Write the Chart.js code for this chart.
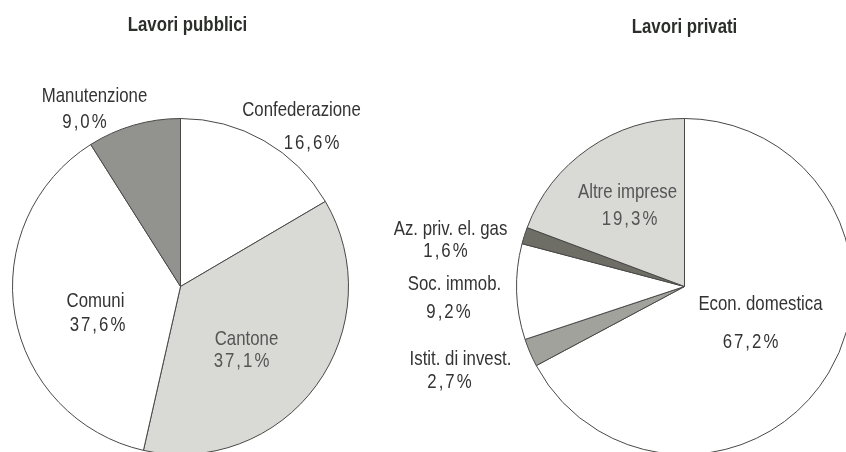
<!DOCTYPE html>
<html>
<head>
<meta charset="utf-8">
<script src="https://cdn.jsdelivr.net/npm/chart.js@4/dist/chart.umd.min.js"></script>
<style>
  html, body { margin: 0; padding: 0; background: #fff; overflow: hidden; width: 846px; height: 452px; }
  canvas { position: absolute; top: 0; }
  #pubblici { left: 0; }
  #privati { left: 370px; }
</style>
</head>
<body>
<canvas id="pubblici" width="423" height="460"></canvas>
<canvas id="privati" width="500" height="460"></canvas>
<script>
// dati - lavori pubblici
var pubLabels = ["Confederazione", "Cantone", "Comuni", "Manutenzione"];
var pubValues = [16.6, 37.1, 37.6, 9.0];
var pubText = ["16,6%", "37,1%", "37,6%", "9,0%"];

// dati - lavori privati
var privLabels = ["Econ. domestica", "Istit. di invest.", "Soc. immob.", "Az. priv. el. gas", "Altre imprese"];
var privValues = [67.2, 2.7, 9.2, 1.6, 19.3];
var privText = ["67,2%", "2,7%", "9,2%", "1,6%", "19,3%"];

var pubColors = ["#ffffff", "#d9d9d6", "#ffffff", "#92928e"];
var privColors = ["#ffffff", "#a2a29d", "#ffffff", "#6e6e67", "#d9d9d6"];

// posizione etichette rispetto al centro della torta [dx nome, dy nome, dx %, dy %]
var pubLabelPos = [[121, -176, 131, -143], [66, 53, 61, 75], [-85, 15, -83, 39], [-86, -190, -96, -164]];
var privLabelPos = [[76, 18, 66, 56], [-224, 73, -235, 96], [-230, -2, -236, 26], [-234, -57, -239, -35], [-57, -94, -55, -67]];

var FONT = "'Liberation Sans', Arial, sans-serif";
var NARROW = 0.8; // simula un carattere condensato

function narrowText(ctx, txt, x, y) {
    ctx.save();
    ctx.translate(x, y);
    ctx.scale(NARROW, 1);
    ctx.fillText(txt, 0, 0);
    ctx.restore();
}

var labelPlugin = {
    id: 'sliceLabels',
    afterDraw: function (chart, args, opts) {
        var ctx = chart.ctx;
        var arc = chart.getDatasetMeta(0).data[0];
        var cx = arc.x, cy = arc.y;
        ctx.save();
        ctx.textAlign = 'center';
        ctx.textBaseline = 'middle';
        // titolo
        ctx.fillStyle = '#2b2e2a';
        ctx.font = "bold 21px " + FONT;
        narrowText(ctx, opts.title, cx + opts.titleDx, opts.titleY);
        // etichette
        chart.data.labels.forEach(function (lab, i) {
            var p = opts.pos[i];
            ctx.fillStyle = opts.colors[i];
            ctx.font = "21px " + FONT;
            ctx.letterSpacing = '0px';
            narrowText(ctx, lab, cx + p[0], cy + p[1]);
            ctx.letterSpacing = '2.5px';
            narrowText(ctx, opts.pct[i], cx + p[2] + 1, cy + p[3]);
        });
        ctx.restore();
    }
};

function makePie(id, labels, values, colors, padding, plug) {
    var ctx = document.getElementById(id);
    return new Chart(ctx, {
        type: 'pie',
        data: {
            labels: labels,
            datasets: [{
                data: values,
                backgroundColor: colors,
                borderColor: "#484846",
                borderWidth: 1
            }]
        },
        options: {
            responsive: false,
            animation: false,
            events: [],
            layout: { padding: padding },
            plugins: {
                legend: { display: false },
                tooltip: { enabled: false },
                sliceLabels: plug
            }
        },
        plugins: [labelPlugin]
    });
}

makePie("pubblici", pubLabels, pubValues, pubColors,
    { left: 12, right: 74, top: 118, bottom: 5 },
    { title: "Lavori pubblici", titleDx: 7, titleY: 25, pos: pubLabelPos, pct: pubText,
      colors: ["#333", "#555", "#333", "#333"] });

makePie("privati", privLabels, privValues, privColors,
    { left: 146, right: 17, top: 118, bottom: 5 },
    { title: "Lavori privati", titleDx: 0, titleY: 27, pos: privLabelPos, pct: privText,
      colors: ["#333", "#333", "#333", "#333", "#555"] });
</script>
</body>
</html>
